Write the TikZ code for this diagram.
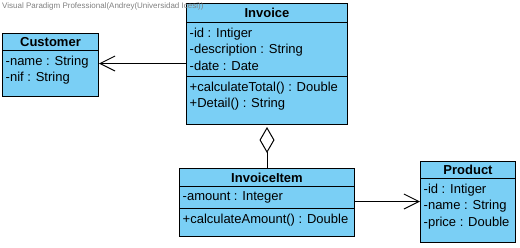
\documentclass[tikz,border=0pt]{standalone}
\usepackage{fontspec}
\setmainfont{Liberation Sans}
\usetikzlibrary{arrows.meta}
\definecolor{clsBlue}{RGB}{122,207,245}
\tikzstyle{cBox}=[draw=black, fill=clsBlue, line width=1pt, anchor=north west, inner sep=0pt, font=\fontsize{13}{16}\selectfont\bfseries]
\tikzstyle{cTxt}=[anchor=north west, inner sep=0pt, align=left, font=\fontsize{13}{16.5}\selectfont]
\tikzstyle{eAssoc}=[line width=1pt, -{Straight Barb[length=15pt,width=15pt]}]
\tikzstyle{eAggr}=[line width=1pt, -{Diamond[open,length=26pt,width=15pt]}, shorten >=2pt]

\begin{document}
\begin{tikzpicture}[x=1pt,y=-1pt]%[1 unit = 1 px]
                \useasboundingbox (0,0) rectangle (520,247);

                % Invoice
                \draw (186,3) node[cBox, minimum width=161pt, minimum height=19pt] (invT) {Invoice};
                \draw (186,22) node[cBox, minimum width=161pt, minimum height=54pt] (invA) {};
                \draw (186,76) node[cBox, minimum width=161pt, minimum height=48pt] (invM) {};
                \node[cTxt] at ([xshift=3.5pt,yshift=-5.5pt]invA.north west) {-id : Intiger\\-description : String\\-date : Date};
                \node[cTxt] at ([xshift=3.5pt,yshift=-5.5pt]invM.north west) {+calculateTotal() : Double\\+Detail() : String};

                % Customer
                \draw (2,33) node[cBox, minimum width=96pt, minimum height=17pt] (cusT) {Customer};
                \draw (2,50) node[cBox, minimum width=96pt, minimum height=46pt] (cusA) {};
                \node[cTxt] at ([xshift=3.5pt,yshift=-5.5pt]cusA.north west) {-name : String\\-nif : String};

                % InvoiceItem
                \draw (179,168) node[cBox, minimum width=175pt, minimum height=18pt] (itemT) {InvoiceItem};
                \draw (179,186) node[cBox, minimum width=175pt, minimum height=22pt] (itemA) {};
                \draw (179,208) node[cBox, minimum width=175pt, minimum height=28pt] (itemM) {};
                \node[cTxt] at ([xshift=3.5pt,yshift=-5.5pt]itemA.north west) {-amount : Integer};
                \node[cTxt] at ([xshift=3.5pt,yshift=-5.5pt]itemM.north west) {+calculateAmount() : Double};

                % Product
                \draw (420,161) node[cBox, minimum width=95pt, minimum height=17pt] (prodT) {Product};
                \draw (420,178) node[cBox, minimum width=95pt, minimum height=64pt] (prodA) {};
                \node[cTxt] at ([xshift=3.5pt,yshift=-5.5pt]prodA.north west) {-id : Intiger\\-name : String\\-price : Double};

                % links
                \coordinate (aStart) at ([yshift=-14pt]invA.west);
                \coordinate (bStart) at ([yshift=-4pt]itemA.east);
                \draw[eAssoc] (aStart) -- (aStart -| cusA.east);
                \draw[eAssoc] (bStart) -- (bStart -| prodA.west);
                \draw[eAggr] (itemT.north) -- (invM.south);

                \node[anchor=west, inner sep=0pt, text=gray, font=\fontsize{8}{9}\selectfont] (wm) at (2,6) {Visual Paradigm Professional(Andrey(Universidad Icesi))};

\end{tikzpicture}
\end{document}
